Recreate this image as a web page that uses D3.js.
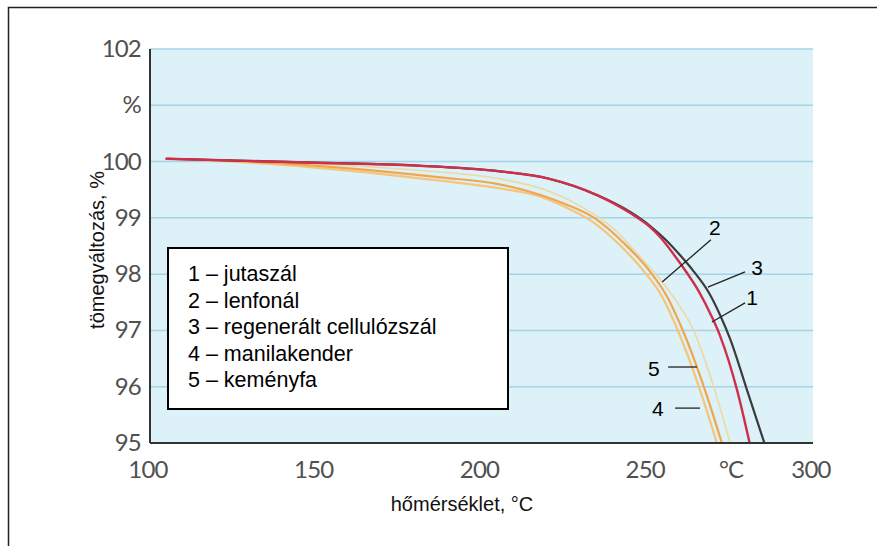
<!DOCTYPE html>
<html>
<head>
<meta charset="utf-8">
<script src="https://cdn.jsdelivr.net/npm/d3@7"></script>
<style>
  body { margin: 0; background: #fff; }
  .tick-lab { font-family: Lato, "Open Sans", sans-serif; font-size: 24px; fill: #505050; letter-spacing: -0.8px; }
  .ttl { font-family: "Liberation Sans", Arial, sans-serif; font-size: 20px; fill: #111; }
  .leg { font-family: "Liberation Sans", Arial, sans-serif; font-size: 21.5px; fill: #000; }
  .num { font-family: "Liberation Sans", Arial, sans-serif; font-size: 21px; fill: #000; }
</style>
</head>
<body>
<div id="chart"></div>
<script>
// tick values
var yTicks = [95, 96, 97, 98, 99, 100, 101, 102];
var yTickText = ["95", "96", "97", "98", "99", "100", "%", "102"];
var xTicks = [100, 150, 200, 250, 300];

// curves: temperature (°C) and mass change (%)
var temps1 = [105, 150, 180, 205, 220, 235, 245, 250.8, 254, 258, 262, 265.5, 269.5, 272, 277.1, 281];
var vals1 = [100.05, 99.98, 99.93, 99.83, 99.7, 99.4, 99.08, 98.84, 98.65, 98.35, 98.02, 97.7, 97.24, 96.9, 95.94, 94.97];

var temps2 = [105, 150, 190, 205, 218, 227.6, 240, 248, 254.5, 259, 264, 269.5, 275];
var vals2 = [100.05, 99.96, 99.8, 99.7, 99.52, 99.28, 98.8, 98.3, 97.86, 97.5, 97.0, 96.1, 95.0];

var temps3 = [105, 150, 180, 205, 220, 235, 245, 250.8, 255.4, 260, 264, 268.3, 272, 275, 280.1, 285.5];
var vals3 = [100.05, 99.98, 99.93, 99.83, 99.7, 99.4, 99.1, 98.86, 98.62, 98.33, 98.05, 97.7, 97.27, 96.85, 95.94, 94.97];

var temps4 = [105, 130, 160, 187.5, 205, 217.6, 225, 233, 242, 249, 254.5, 258.5, 263.5, 267, 271];
var vals4 = [100.05, 99.98, 99.84, 99.66, 99.53, 99.38, 99.2, 98.95, 98.5, 98.05, 97.6, 97.1, 96.35, 95.75, 95.0];

var temps5 = [105, 130, 160, 187.5, 205, 217.6, 225, 234, 243, 250.8, 256, 260, 265, 268.5, 272.5];
var vals5 = [100.05, 100.0, 99.88, 99.72, 99.6, 99.41, 99.25, 99.0, 98.55, 98.05, 97.6, 97.1, 96.35, 95.75, 95.0];

var legendItems = ["1 – jutaszál", "2 – lenfonál", "3 – regenerált cellulózszál", "4 – manilakender", "5 – keményfa"];

// curve labels: number, label position, leader start and end (data units)
var labNames = ["2", "3", "1", "5", "4"];
var labT = [270.4, 283.1, 281.6, 252, 253.2];
var labV = [98.82, 98.11, 97.58, 96.33, 95.62];
var leadT1 = [269.2, 279.5, 279.5, 256.3, 258.4];
var leadV1 = [98.61, 98.04, 97.49, 96.35, 95.62];
var leadT2 = [254.5, 268.3, 269.5, 265, 265.9];
var leadV2 = [97.86, 97.77, 97.15, 96.35, 95.62];

var width = 877;
var height = 546;

var svg = d3.select("#chart")
  .append("svg")
  .attr("width", width)
  .attr("height", height);

var xScale = d3.scaleLinear().domain([100, 300]).range([150, 813]);
var yScale = d3.scaleLinear().domain([95, 102]).range([443, 49]);

// outer frame (top and left edge only)
svg.append("path")
  .attr("d", "M8.5," + height + "V7.5H" + width)
  .attr("fill", "none")
  .attr("stroke", "#222")
  .attr("stroke-width", 1.5);

// plot background
svg.append("rect")
  .attr("x", xScale(100))
  .attr("y", yScale(102))
  .attr("width", xScale(300) - xScale(100))
  .attr("height", yScale(95) - yScale(102))
  .attr("fill", "#ddf1f8");

// grid lines
svg.append("g")
  .selectAll("line")
  .data(yTicks.slice(1))
  .enter()
  .append("line")
  .attr("x1", xScale(100))
  .attr("x2", xScale(300))
  .attr("y1", function(d) { return yScale(d); })
  .attr("y2", function(d) { return yScale(d); })
  .attr("stroke", "#a4d4e6")
  .attr("stroke-width", 1.5);

// curves
var line = d3.line()
  .x(function(d) { return xScale(d[0]); })
  .y(function(d) { return yScale(d[1]); })
  .curve(d3.curveMonotoneX);

svg.append("clipPath").attr("id", "plotClip")
  .append("rect")
  .attr("x", xScale(100))
  .attr("y", yScale(102))
  .attr("width", xScale(300) - xScale(100))
  .attr("height", yScale(95) - yScale(102));

var curves = [
  { t: temps2, v: vals2, color: "#ecd9a4", w: 1.6 },
  { t: temps4, v: vals4, color: "#f6c47a", w: 2.2 },
  { t: temps5, v: vals5, color: "#f0a74c", w: 2.2 },
  { t: temps3, v: vals3, color: "#3b3b3b", w: 2.2 },
  { t: temps1, v: vals1, color: "#cf2f4a", w: 2.4 }
];

var cg = svg.append("g").attr("clip-path", "url(#plotClip)");
curves.forEach(function(c) {
  var pts = c.t.map(function(t, i) { return [t, c.v[i]]; });
  cg.append("path")
    .datum(pts)
    .attr("d", line)
    .attr("fill", "none")
    .attr("stroke", c.color)
    .attr("stroke-width", c.w)
    .attr("stroke-linecap", "round");
});

// axis lines
svg.append("line")
  .attr("x1", xScale(100)).attr("x2", xScale(100))
  .attr("y1", yScale(102)).attr("y2", yScale(95))
  .attr("stroke", "#333").attr("stroke-width", 2);
svg.append("line")
  .attr("x1", xScale(100)).attr("x2", xScale(300))
  .attr("y1", yScale(95)).attr("y2", yScale(95))
  .attr("stroke", "#333").attr("stroke-width", 2);

// y tick labels
svg.append("g")
  .selectAll("text")
  .data(yTicks)
  .enter()
  .append("text")
  .attr("class", "tick-lab")
  .attr("x", 141)
  .attr("y", function(d) { return yScale(d) + 8; })
  .attr("text-anchor", "end")
  .text(function(d, i) { return yTickText[i]; });

// x tick labels
svg.append("g")
  .selectAll("text")
  .data(xTicks)
  .enter()
  .append("text")
  .attr("class", "tick-lab")
  .attr("x", function(d) { return xScale(d) - 2; })
  .attr("y", 477.5)
  .attr("text-anchor", "middle")
  .text(function(d) { return d; });

// unit on the x axis
svg.append("text")
  .attr("class", "tick-lab")
  .attr("x", xScale(275.3))
  .attr("y", 477.5)
  .attr("text-anchor", "middle")
  .text("°C");

// axis titles
svg.append("text")
  .attr("class", "ttl")
  .attr("x", 462)
  .attr("y", 511)
  .attr("text-anchor", "middle")
  .text("hőmérséklet, °C");

svg.append("text")
  .attr("class", "ttl")
  .attr("transform", "translate(104,250)rotate(-90)")
  .attr("text-anchor", "middle")
  .text("tömegváltozás, %");

// legend box
var leg = svg.append("g").attr("transform", "translate(168,248)");
leg.append("rect")
  .attr("width", 340)
  .attr("height", 161)
  .attr("fill", "#fff")
  .attr("stroke", "#000")
  .attr("stroke-width", 2);
leg.selectAll("text")
  .data(legendItems)
  .enter()
  .append("text")
  .attr("class", "leg")
  .attr("x", 20)
  .attr("y", function(d, i) { return 33 + i * 26.6; })
  .text(function(d) { return d; });

// curve number labels with leader lines
labNames.forEach(function(n, i) {
  svg.append("line")
    .attr("x1", xScale(leadT1[i])).attr("y1", yScale(leadV1[i]))
    .attr("x2", xScale(leadT2[i])).attr("y2", yScale(leadV2[i]))
    .attr("stroke", "#222")
    .attr("stroke-width", 1.3);
  svg.append("text")
    .attr("class", "num")
    .attr("x", xScale(labT[i]))
    .attr("y", yScale(labV[i]) + 7.5)
    .attr("text-anchor", "middle")
    .text(n);
});
</script>
</body>
</html>
